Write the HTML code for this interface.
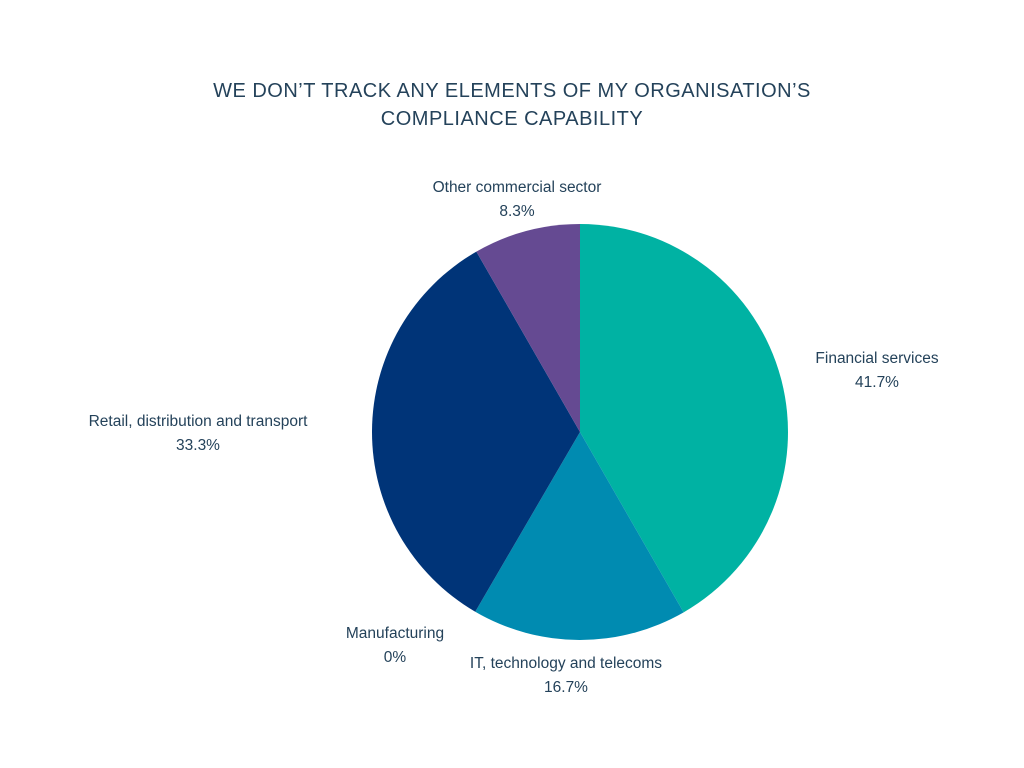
<!DOCTYPE html>
<html><head><meta charset="utf-8"><style>
html,body{margin:0;padding:0;background:#fff;}
svg{display:block;font-family:"Liberation Sans",sans-serif;}
</style></head><body>
<svg width="1024" height="768" viewBox="0 0 1024 768">
<rect width="1024" height="768" fill="#fff"/>
<text x="512" y="97" text-anchor="middle" font-size="20" fill="#24425a" letter-spacing="0.5">WE DON’T TRACK ANY ELEMENTS OF MY ORGANISATION’S</text>
<text x="512" y="125" text-anchor="middle" font-size="20" fill="#24425a" letter-spacing="0.5">COMPLIANCE CAPABILITY</text>
<g id="slices"></g>
<g id="labels"></g>
</svg>
<script>
const categories = ["Financial services","IT, technology and telecoms","Manufacturing","Retail, distribution and transport","Other commercial sector"];
const values = [41.7, 16.7, 0, 33.3, 8.3];
const colors = ["#00b2a3","#008bb1","#4a4a8a","#003478","#654a92"];
const labelX = [877, 566, 395, 198, 517];
const labelY = [363, 668, 638, 426, 192];
const cx=580, cy=432, r=208;
const NS="http://www.w3.org/2000/svg";
const total = values.reduce((a,b)=>a+b,0);
const sg=document.getElementById('slices'), lg=document.getElementById('labels');
let acc=0;
function pt(f){const a=f*2*Math.PI;return [cx+r*Math.sin(a), cy-r*Math.cos(a)];}
values.forEach((v,i)=>{
  const f0=acc/total, f1=(acc+v)/total; acc+=v;
  if(v>0){
    const [x0,y0]=pt(f0),[x1,y1]=pt(f1);
    const large=(f1-f0)>0.5?1:0;
    const p=document.createElementNS(NS,'path');
    p.setAttribute('d',`M${cx},${cy}L${x0},${y0}A${r},${r} 0 ${large} 1 ${x1},${y1}Z`);
    p.setAttribute('fill',colors[i]);
    
    
    sg.appendChild(p);
  }
  [categories[i], (v===0?'0':v.toFixed(1))+'%'].forEach((s,j)=>{
    const t=document.createElementNS(NS,'text');
    t.setAttribute('x',labelX[i]);t.setAttribute('y',labelY[i]+j*24);
    t.setAttribute('text-anchor','middle');t.setAttribute('font-size','15.5');
    t.setAttribute('fill','#24425a');
    t.textContent=s;
    
    
    lg.appendChild(t);
  });
});
</script>
</body></html>
